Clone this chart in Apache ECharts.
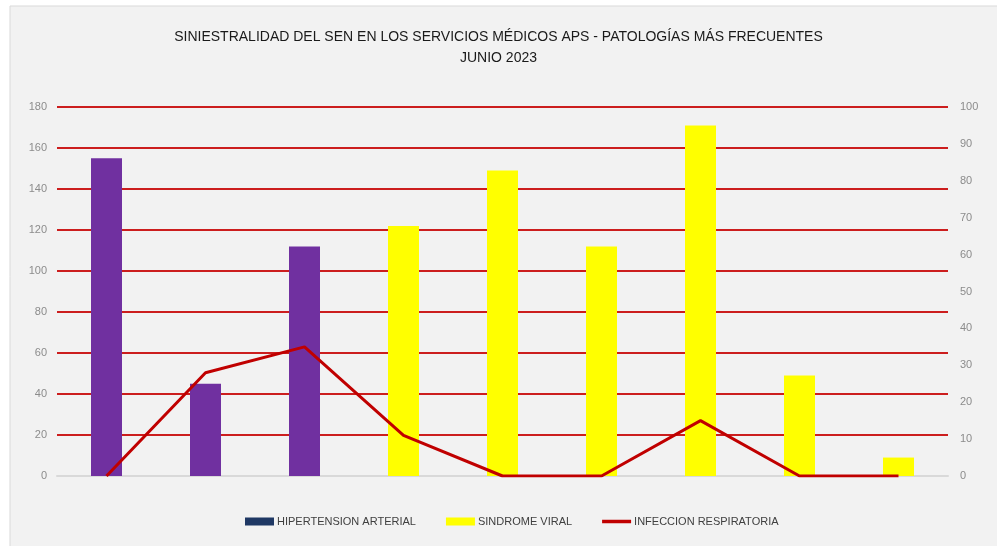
<!DOCTYPE html>
<html>
<head>
<meta charset="utf-8">
<script src="https://cdn.jsdelivr.net/npm/echarts@6/dist/echarts.min.js"></script>
<style>
html,body{margin:0;padding:0;background:#ffffff;}
#c{width:997px;height:546px;}
</style>
</head>
<body>
<div id="c"></div>
<script>
var categories = ['1','2','3','4','5','6','7','8','9'];
var hipertension = [155, 45, 112, null, null, null, null, null, null];
var sindromeViral = [null, null, null, 122, 149, 112, 171, 49, 9];
var infeccionRespiratoria = [0, 28, 35, 11, 0, 0, 15, 0, 0];
var leftTicks = [0, 20, 40, 60, 80, 100, 120, 140, 160, 180];
var rightTicks = [0, 10, 20, 30, 40, 50, 60, 70, 80, 90, 100];

var chart = echarts.init(document.getElementById('c'));
chart.setOption({
  backgroundColor: '#ffffff',
  animation: false,
  graphic: [{
    type: 'rect', z: -10,
    shape: {x: 10, y: 6, width: 1000, height: 600},
    style: {fill: '#f2f2f2', stroke: '#d9d9d9', lineWidth: 1}
  }],
  title: {
    text: 'SINIESTRALIDAD DEL SEN EN LOS SERVICIOS MÉDICOS APS - PATOLOGÍAS MÁS FRECUENTES\nJUNIO 2023',
    left: 'center', top: 22,
    textStyle: {fontFamily: 'Liberation Sans', fontSize: 14, fontWeight: 'normal', color: '#1a1a1a', lineHeight: 21}
  },
  legend: {
    bottom: 14, left: 240, itemGap: 30, itemWidth: 29, itemHeight: 8,
    textStyle: {fontFamily: 'Liberation Sans', fontSize: 11, color: '#404040', padding: [0, 0, 0, -2]},
    data: [
      {name: 'HIPERTENSION ARTERIAL', icon: 'rect', itemStyle: {color: '#1f3864'}},
      {name: 'SINDROME VIRAL', icon: 'rect'},
      {name: 'INFECCION RESPIRATORIA', icon: 'path://M0,0h29v3.5h-29z', itemStyle: {color: '#c00000'}}
    ]
  },
  grid: {left: 57, right: 49, top: 107, bottom: 70, containLabel: false},
  xAxis: {
    type: 'category', data: categories,
    axisLine: {show: true, lineStyle: {color: '#d9d9d9', width: 2}},
    axisTick: {show: false}, axisLabel: {show: false}
  },
  yAxis: [{
    type: 'value', min: 0, max: 180, interval: 20,
    axisLine: {show: false}, axisTick: {show: false},
    axisLabel: {color: '#8c8c8c', fontSize: 11, margin: 10, fontFamily: 'Liberation Sans Narrow, Liberation Sans'},
    splitLine: {show: true, lineStyle: {color: '#cc1e1e', width: 2}}
  }, {
    type: 'value', min: 0, max: 100, interval: 10,
    axisLine: {show: false}, axisTick: {show: false},
    axisLabel: {color: '#8c8c8c', fontSize: 11, margin: 12, fontFamily: 'Liberation Sans Narrow, Liberation Sans'},
    splitLine: {show: false}
  }],
  series: [{
    name: 'HIPERTENSION ARTERIAL', type: 'bar', data: hipertension, stack: 'a',
    barWidth: 31, itemStyle: {color: '#7030a0'}, yAxisIndex: 0
  }, {
    name: 'SINDROME VIRAL', type: 'bar', data: sindromeViral, stack: 'a',
    barWidth: 31, itemStyle: {color: '#ffff00'}, yAxisIndex: 0
  }, {
    name: 'INFECCION RESPIRATORIA', type: 'line', data: infeccionRespiratoria, yAxisIndex: 1,
    symbol: 'none', z: 5, lineStyle: {color: '#c00000', width: 3}, itemStyle: {color: '#c00000'}
  }]
});
</script>
</body>
</html>
